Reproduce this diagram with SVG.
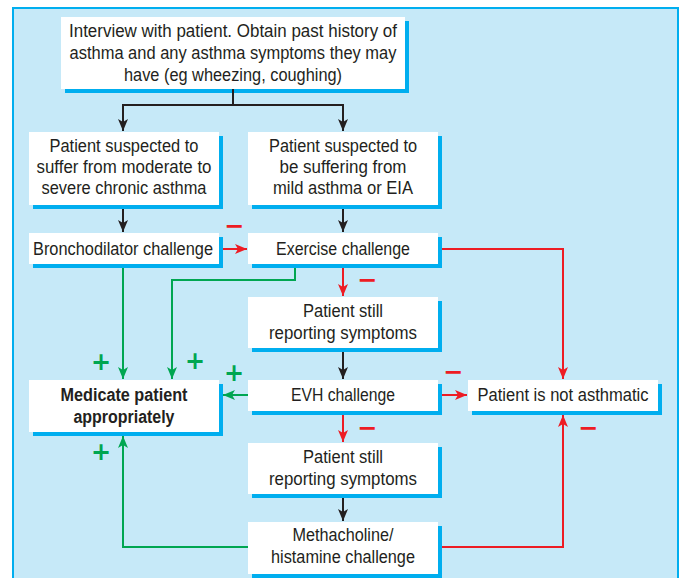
<svg xmlns="http://www.w3.org/2000/svg" width="680" height="578" viewBox="0 0 680 578">
  <defs>
    <style>
      .panel { fill: #c6e9f8; stroke: #00aeef; stroke-width: 2; }
      .box { fill: #ffffff; }
      .shadow { fill: #00aeef; }
      .t { font-family: "Liberation Sans Narrow", "Liberation Sans", Arial, sans-serif; font-size: 17.5px; fill: #231f20; text-anchor: middle; }
      .b { font-weight: bold; }
      .blk { fill: none; stroke: #231f20; stroke-width: 2; }
      .red { fill: none; stroke: #ed1c24; stroke-width: 2; }
      .grn { fill: none; stroke: #00a651; stroke-width: 2; }
      .sign { font-family: "DejaVu Sans", sans-serif; font-size: 24px; font-weight: bold; text-anchor: middle; }
      .plus { fill: #00a651; }
      .minus { fill: #ed1c24; }
    </style>
    <marker id="ahBlack" markerUnits="userSpaceOnUse" markerWidth="12" markerHeight="10" refX="12" refY="5" orient="auto">
      <path d="M0,0 L12,5 L0,10 L3,5 Z" fill="#231f20"/>
    </marker>
    <marker id="ahRed" markerUnits="userSpaceOnUse" markerWidth="12" markerHeight="10" refX="12" refY="5" orient="auto">
      <path d="M0,0 L12,5 L0,10 L3,5 Z" fill="#ed1c24"/>
    </marker>
    <marker id="ahGreen" markerUnits="userSpaceOnUse" markerWidth="12" markerHeight="10" refX="12" refY="5" orient="auto">
      <path d="M0,0 L12,5 L0,10 L3,5 Z" fill="#00a651"/>
    </marker>
  </defs>

  <!-- background panel -->
  <rect class="panel" x="13" y="8" width="665" height="585"/>

  <!-- nodes -->
  <g id="interview">
    <rect class="shadow" x="65" y="21" width="344" height="72"/>
    <rect class="box" x="61" y="17" width="344" height="72"/>
    <text class="t" x="233" y="37" textLength="328" lengthAdjust="spacingAndGlyphs">Interview with patient. Obtain past history of</text>
    <text class="t" x="233" y="59" textLength="327" lengthAdjust="spacingAndGlyphs">asthma and any asthma symptoms they may</text>
    <text class="t" x="233" y="81" textLength="218" lengthAdjust="spacingAndGlyphs">have (eg wheezing, coughing)</text>
  </g>

  <g id="suspect-chronic">
    <rect class="shadow" x="33" y="136" width="190" height="73"/>
    <rect class="box" x="29" y="132" width="190" height="73"/>
    <text class="t" x="124" y="152" textLength="149" lengthAdjust="spacingAndGlyphs">Patient suspected to</text>
    <text class="t" x="124" y="173" textLength="175" lengthAdjust="spacingAndGlyphs">suffer from moderate to</text>
    <text class="t" x="124" y="194" textLength="165" lengthAdjust="spacingAndGlyphs">severe chronic asthma</text>
  </g>

  <g id="suspect-mild">
    <rect class="shadow" x="252" y="136" width="190" height="73"/>
    <rect class="box" x="248" y="132" width="190" height="73"/>
    <text class="t" x="343" y="152" textLength="148" lengthAdjust="spacingAndGlyphs">Patient suspected to</text>
    <text class="t" x="343" y="173" textLength="127" lengthAdjust="spacingAndGlyphs">be suffering from</text>
    <text class="t" x="343" y="194" textLength="140" lengthAdjust="spacingAndGlyphs">mild asthma or EIA</text>
  </g>

  <g id="bronchodilator">
    <rect class="shadow" x="33" y="237" width="190" height="31"/>
    <rect class="box" x="29" y="233" width="190" height="31"/>
    <text class="t" x="123" y="255" textLength="180" lengthAdjust="spacingAndGlyphs">Bronchodilator challenge</text>
  </g>

  <g id="exercise">
    <rect class="shadow" x="252" y="237" width="190" height="31"/>
    <rect class="box" x="248" y="233" width="190" height="31"/>
    <text class="t" x="343" y="255" textLength="134" lengthAdjust="spacingAndGlyphs">Exercise challenge</text>
  </g>

  <g id="symptoms-1">
    <rect class="shadow" x="252" y="301" width="190" height="51"/>
    <rect class="box" x="248" y="297" width="190" height="51"/>
    <text class="t" x="343" y="317" textLength="80" lengthAdjust="spacingAndGlyphs">Patient still</text>
    <text class="t" x="343" y="339" textLength="148" lengthAdjust="spacingAndGlyphs">reporting symptoms</text>
  </g>

  <g id="medicate">
    <rect class="shadow" x="33" y="384" width="190" height="52"/>
    <rect class="box" x="29" y="380" width="190" height="52"/>
    <text class="t b" x="124" y="401" textLength="127" lengthAdjust="spacingAndGlyphs">Medicate patient</text>
    <text class="t b" x="124" y="423" textLength="101" lengthAdjust="spacingAndGlyphs">appropriately</text>
  </g>

  <g id="evh">
    <rect class="shadow" x="252" y="384" width="190" height="31"/>
    <rect class="box" x="248" y="380" width="190" height="31"/>
    <text class="t" x="343" y="401" textLength="104" lengthAdjust="spacingAndGlyphs">EVH challenge</text>
  </g>

  <g id="not-asthmatic">
    <rect class="shadow" x="472" y="384" width="190" height="31"/>
    <rect class="box" x="468" y="380" width="190" height="31"/>
    <text class="t" x="563" y="401" textLength="171" lengthAdjust="spacingAndGlyphs">Patient is not asthmatic</text>
  </g>

  <g id="symptoms-2">
    <rect class="shadow" x="252" y="447" width="190" height="51"/>
    <rect class="box" x="248" y="443" width="190" height="51"/>
    <text class="t" x="343" y="463" textLength="80" lengthAdjust="spacingAndGlyphs">Patient still</text>
    <text class="t" x="343" y="485" textLength="148" lengthAdjust="spacingAndGlyphs">reporting symptoms</text>
  </g>

  <g id="methacholine">
    <rect class="shadow" x="252" y="526" width="190" height="52"/>
    <rect class="box" x="248" y="522" width="190" height="52"/>
    <text class="t" x="343" y="541" textLength="101" lengthAdjust="spacingAndGlyphs">Methacholine/</text>
    <text class="t" x="343" y="563" textLength="144" lengthAdjust="spacingAndGlyphs">histamine challenge</text>
  </g>

  <!-- connectors -->
  <g id="connectors">
    <path class="blk" d="M233,89 V105 M122,105 H344"/>
    <path class="blk" d="M123,105 V131" marker-end="url(#ahBlack)"/>
    <path class="blk" d="M343,105 V131" marker-end="url(#ahBlack)"/>
    <path class="blk" d="M123,209 V232" marker-end="url(#ahBlack)"/>
    <path class="blk" d="M343,209 V232" marker-end="url(#ahBlack)"/>
    <path class="blk" d="M343,352 V379" marker-end="url(#ahBlack)"/>
    <path class="blk" d="M343,498 V521" marker-end="url(#ahBlack)"/>

    <path class="red" d="M223,249 H247" marker-end="url(#ahRed)"/>
    <path class="red" d="M442,249 H563 V379" marker-end="url(#ahRed)"/>
    <path class="red" d="M343,268 V296" marker-end="url(#ahRed)"/>
    <path class="red" d="M442,395 H467" marker-end="url(#ahRed)"/>
    <path class="red" d="M343,415 V442" marker-end="url(#ahRed)"/>
    <path class="red" d="M442,547 H563 V415" marker-end="url(#ahRed)"/>

    <path class="grn" d="M123,268 V379" marker-end="url(#ahGreen)"/>
    <path class="grn" d="M295,268 V280 H172 V379" marker-end="url(#ahGreen)"/>
    <path class="grn" d="M248,395 H223" marker-end="url(#ahGreen)"/>
    <path class="grn" d="M248,547 H123 V436" marker-end="url(#ahGreen)"/>
  </g>

  <!-- outcome signs -->
  <g id="signs">
    <text class="sign plus" x="101" y="370">+</text>
    <text class="sign plus" x="195" y="369">+</text>
    <text class="sign plus" x="234" y="381">+</text>
    <text class="sign plus" x="101" y="460">+</text>
    <text class="sign minus" x="234" y="234">−</text>
    <text class="sign minus" x="367" y="288">−</text>
    <text class="sign minus" x="453" y="380">−</text>
    <text class="sign minus" x="367" y="436">−</text>
    <text class="sign minus" x="588" y="436">−</text>
  </g>
</svg>
